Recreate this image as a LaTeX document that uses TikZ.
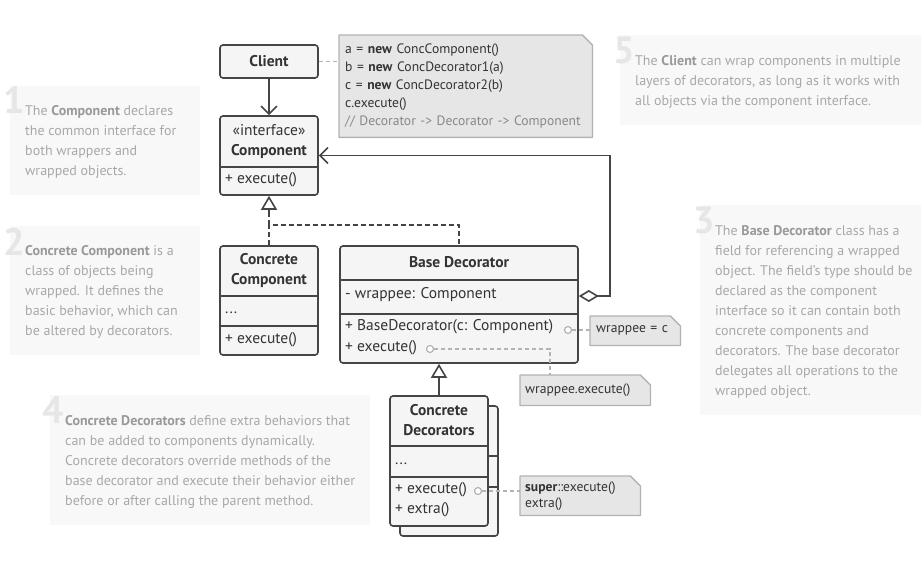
\documentclass[tikz,border=0pt]{standalone}
\usepackage{fontspec}
\setmainfont{PT Sans}
\usetikzlibrary{arrows.meta,backgrounds}
\definecolor{boxline}{HTML}{454545}
\definecolor{boxfill}{HTML}{F5F5F5}
\definecolor{boxtext}{HTML}{333333}
\definecolor{notefill}{HTML}{E6E6E6}
\definecolor{noteline}{HTML}{B3B3B3}
\definecolor{commentc}{HTML}{888888}
\definecolor{descbg}{HTML}{F8F8F8}
\definecolor{desctext}{HTML}{A8A8A8}
\definecolor{descbold}{HTML}{999999}
\definecolor{numc}{HTML}{E6E6E6}
\newcommand\hl[1]{\textbf{\color{descbold}#1}}
\newcommand\foldnote[1]{%
  \begin{scope}[on background layer]
    \draw[draw=noteline, fill=notefill, line width=1.3pt, line join=round]
      (#1.north west) -- ([xshift=-10pt]#1.north east) -- ([yshift=-10pt]#1.north east)
      -- (#1.south east) -- (#1.south west) -- cycle;
  \end{scope}}
\begin{document}
\begin{tikzpicture}[x=1pt,y=-1pt,
  cls/.style={draw=boxline, fill=boxfill, line width=1.6pt, rounded corners=3pt, inner sep=0pt, text=boxtext},
  lbl/.style={font=\fontsize{15.5}{18}\selectfont, text=boxtext, inner sep=0pt},
  blbl/.style={font=\fontsize{15.5}{20}\selectfont\bfseries, text=boxtext, inner sep=0pt, align=center},
  divider/.style={draw=boxline, line width=1.6pt},
  note/.style={inner sep=0pt, font=\fontsize{13.6}{18}\selectfont, text=boxtext, align=left},
  descbox/.style={fill=descbg, draw=none, inner sep=0pt, anchor=north west},
  desc/.style={font=\fontsize{14}{20}\selectfont, text=desctext, align=left, inner sep=0pt, anchor=north west},
  bignum/.style={font=\fontsize{38}{38}\selectfont\bfseries, text=numc, inner sep=0pt, anchor=north west},
  assoc/.style={draw=boxline, line width=1.6pt, -{Straight Barb[length=8pt,width=16pt]}},
  realize/.style={draw=boxline, line width=1.6pt, dash pattern=on 5pt off 3pt},
  inherit/.style={draw=boxline, line width=1.6pt, -{Triangle[open, length=14pt, width=16pt]}},
  link/.style={draw=noteline, line width=1.3pt, dash pattern=on 4pt off 3pt},
  dot/.style={circle, draw=noteline, line width=1.2pt, fill=white, minimum size=7pt, inner sep=0pt}
]
\useasboundingbox (0,0) rectangle (921,564);
\begin{pgfonlayer}{background}
\fill[white] (0,0) rectangle (921,564);
\end{pgfonlayer}

% ---------- numbered description notes ----------
\node[descbox, minimum width=190pt, minimum height=109pt] (d1bg) at (10,86) {};
\node[bignum] (d1num) at (3,86) {1};
\node[desc] (d1txt) at (25,105.5) {The \hl{Component} declares\\the common interface for\\both wrappers and\\wrapped objects.};

\node[descbox, minimum width=190pt, minimum height=129pt] (d2bg) at (10,226) {};
\node[bignum] (d2num) at (3,228) {2};
\node[desc] (d2txt) at (25,245.5) {\hl{Concrete Component} is a\\class of objects being\\wrapped. It defines the\\basic behavior, which can\\be altered by decorators.};

\node[descbox, minimum width=221pt, minimum height=210pt] (d3bg) at (700,205) {};
\node[bignum] (d3num) at (693,207) {3};
\node[desc] (d3txt) at (715,225.5) {The \hl{Base Decorator} class has a\\field for referencing a wrapped\\object. The field’s type should be\\declared as the component\\interface so it can contain both\\concrete components and\\decorators. The base decorator\\delegates all operations to the\\wrapped object.};

\node[descbox, minimum width=320pt, minimum height=130pt] (d4bg) at (50,395) {};
\node[bignum] (d4num) at (42,397) {4};
\node[desc] (d4txt) at (65,415.5) {\hl{Concrete Decorators} define extra behaviors that\\can be added to components dynamically.\\Concrete decorators override methods of the\\base decorator and execute their behavior either\\before or after calling the parent method.};

\node[descbox, minimum width=301pt, minimum height=90pt] (d5bg) at (620,35) {};
\node[bignum] (d5num) at (613,37) {5};
\node[desc] (d5txt) at (635,55.5) {The \hl{Client} can wrap components in multiple\\layers of decorators, as long as it works with\\all objects via the component interface.};

% ---------- Client ----------
\node[cls, minimum width=98pt, minimum height=33pt, font=\fontsize{15.5}{18}\selectfont\bfseries] (client) at (269,61.5) {Client};

% ---------- Component ----------
\node[cls, minimum width=98pt, minimum height=79pt] (comp) at (269,155.5) {};
\draw[divider] (comp.west |- 0,167) -- (comp.east |- 0,167);
\node[lbl] (compst) at (269,130) {«interface»};
\node[blbl] (compname) at (269,152) {Component};
\node[lbl, anchor=mid west] (compop) at (225,181) {+ execute()};

% ---------- Concrete Component ----------
\node[cls, minimum width=98pt, minimum height=109pt] (ccomp) at (269,300.5) {};
\draw[divider] (ccomp.west |- 0,296) -- (ccomp.east |- 0,296);
\draw[divider] (ccomp.west |- 0,326) -- (ccomp.east |- 0,326);
\node[blbl] (ccompname) at (269,270.5) {Concrete\\Component};
\node[lbl, anchor=mid west] (ccompf) at (225,311) {...};
\node[lbl, anchor=mid west] (ccompop) at (225,341) {+ execute()};

% ---------- Base Decorator ----------
\node[cls, minimum width=238pt, minimum height=117pt] (bdec) at (459,304.5) {};
\draw[divider] (bdec.west |- 0,280) -- (bdec.east |- 0,280);
\draw[divider] (bdec.west |- 0,314) -- (bdec.east |- 0,314);
\node[blbl] (bdecname) at (459,262) {Base Decorator};
\node[lbl, anchor=mid west] (bdecf) at (345,296) {- wrappee: Component};
\node[lbl, anchor=mid west] (bdecop1) at (345,328) {+ BaseDecorator(c: Component)};
\node[lbl, anchor=mid west] (bdecop2) at (345,349) {+ execute()};

% ---------- Concrete Decorators (stack) ----------
\node[cls, minimum width=98pt, minimum height=130pt] (cdecback) at (449,471) {};
\draw[divider] (cdecback.west |- 0,456) -- (cdecback.east |- 0,456);
\draw[divider] (cdecback.west |- 0,487) -- (cdecback.east |- 0,487);
\node[cls, minimum width=98pt, minimum height=130pt] (cdec) at (439,461) {};
\draw[divider] (cdec.west |- 0,446) -- (cdec.east |- 0,446);
\draw[divider] (cdec.west |- 0,477) -- (cdec.east |- 0,477);
\node[blbl] (cdecname) at (439,420.5) {Concrete\\Decorators};
\node[lbl, anchor=mid west] (cdecf) at (395,462) {...};
\node[lbl, anchor=mid west] (cdecop1) at (395,491) {+ execute()};
\node[lbl, anchor=mid west] (cdecop2) at (395,511) {+ extra()};

% ---------- code notes ----------
\node[note, minimum width=253pt, minimum height=102pt, anchor=north west, text width=241pt] (code) at (339,35)
 {a = \textbf{new} ConcComponent()\\b = \textbf{new} ConcDecorator1(a)\\c = \textbf{new} ConcDecorator2(b)\\c.execute()\\{\color{commentc}// Decorator -> Decorator -> Component}};
\foldnote{code}

\node[note, minimum width=90pt, minimum height=29pt, anchor=north west, text width=78pt] (wnote) at (590,316) {wrappee = c};
\foldnote{wnote}

\node[note, minimum width=130pt, minimum height=30pt, anchor=north west, text width=120pt] (wxnote) at (520,375) {wrappee.execute()};
\foldnote{wxnote}

\node[note, minimum width=120pt, minimum height=39pt, anchor=north west, text width=110pt, font=\fontsize{13.6}{16}\selectfont] (snote) at (520,476) {\textbf{super}::execute()\\extra()};
\foldnote{snote}

% ---------- connectors ----------
\draw[assoc] (client) -- (comp);
\draw[link] (client.east) -- (client.east -| code.west);

\coordinate (rj) at (269,225);
\coordinate (rt) at (269,213);
\draw[realize] (ccomp.north) -- (rj) -| (bdec.north);
\draw[realize] (rj) -- (rt);
\draw[inherit] (rt) -- (comp.south);

\coordinate (aggs) at (bdec.east |- 0,296);
\draw[draw=boxline, line width=1.6pt, {Diamond[open, length=20pt, width=12pt]}-{Straight Barb[length=8pt,width=16pt]}]
  (aggs) -- (610,296) |- (comp.east);

\draw[inherit] (cdec.north) -- (cdec.north |- bdec.south);

\node[dot] (dot1) at (568,330) {};
\draw[link] (dot1.east) -- (dot1.east -| wnote.west);

\node[dot] (dot2) at (430,349) {};
\draw[link] (dot2.east) -| ([xshift=30pt]wxnote.north west);

\node[dot] (dot3) at (478,491) {};
\draw[link] (dot3.east) -- (dot3.east -| snote.west);
\end{tikzpicture}
\end{document}
